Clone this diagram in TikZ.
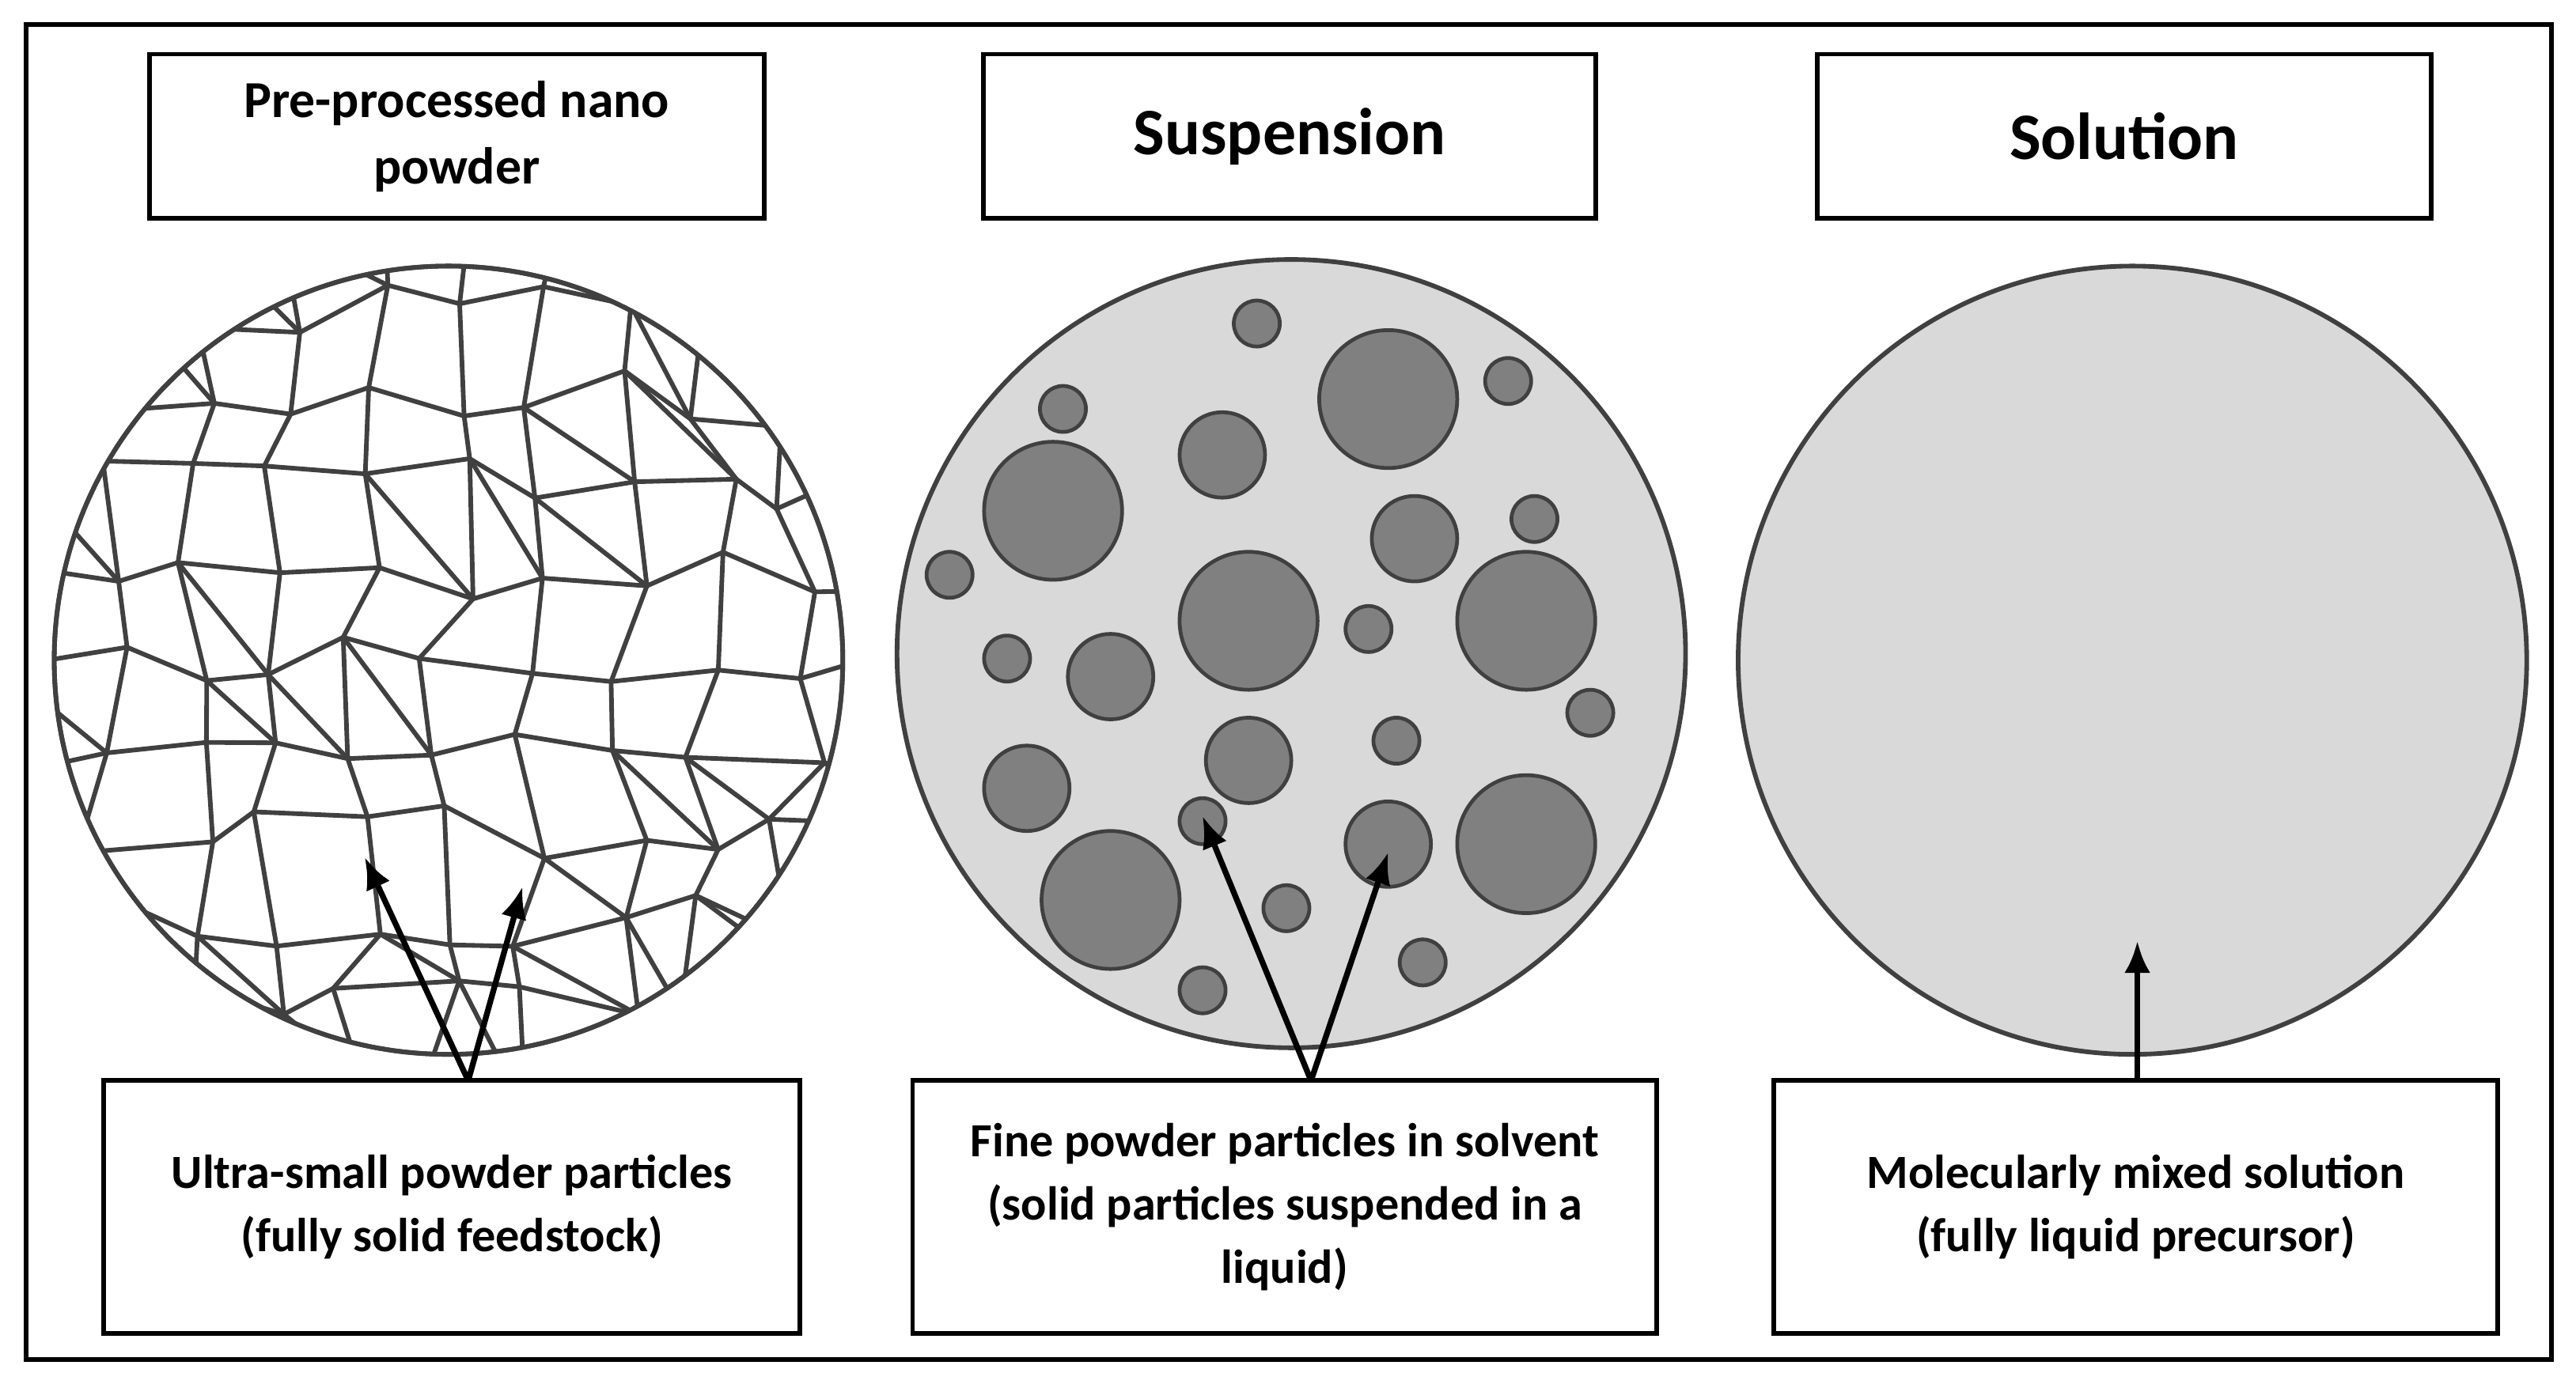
\documentclass[tikz,border=0pt]{standalone}
\usepackage{fontspec}
\setmainfont{Carlito}
\usetikzlibrary{arrows.meta}
\begin{document}
\begin{tikzpicture}[x=0.02cm,y=-0.02cm,
  box/.style={draw=black,line width=1.6pt,fill=white,font=\bfseries},
  disc/.style={draw=black!75,line width=1.6pt},
  part/.style={draw=black!75,line width=1.3pt,fill=black!50},
  mesh/.style={black!75,line width=1.6pt},
  arr/.style={line width=2pt,-{Latex[length=11pt,width=9pt]}}]
\useasboundingbox (0,0) rectangle (1568,845);
\draw[line width=1.6pt] (16,15) rectangle (1553,828);
% top boxes
\node[box,minimum width=374*0.02cm,minimum height=100*0.02cm,align=center,font=\bfseries\fontsize{18}{23}\selectfont] (t1) at (278,83) {Pre-processed nano\\powder};
\node[box,minimum width=373*0.02cm,minimum height=100*0.02cm,font=\bfseries\fontsize{23}{27}\selectfont] (t2) at (785,83) {Suspension};
\node[box,minimum width=374*0.02cm,minimum height=100*0.02cm,font=\bfseries\fontsize{23}{27}\selectfont] (t3) at (1293,83) {Solution};
% circles
\node[disc,circle,fill=white,minimum size=480*0.02cm] (c1) at (273,402) {};
\node[disc,circle,fill=black!15,minimum size=480*0.02cm] (c2) at (786,398) {};
\node[disc,circle,fill=black!15,minimum size=480*0.02cm] (c3) at (1298,402) {};
% mesh in left circle
\begin{scope}
\clip (273,402) circle (239);
\pgfmathsetseed{11}
\foreach \i in {0,...,10}{\foreach \j in {0,...,10}{
  \pgfmathsetmacro\xx{8+\i*53+rand*18}
  \pgfmathsetmacro\yy{137+\j*53+rand*18}
  \coordinate (p-\i-\j) at (\xx,\yy);}}
\foreach \i [evaluate=\i as \ni using int(\i+1)] in {0,...,9}{\foreach \j [evaluate=\j as \nj using int(\j+1)] in {0,...,9}{
  \draw[mesh] (p-\i-\j) -- (p-\ni-\j);
  \draw[mesh] (p-\i-\j) -- (p-\i-\nj);
  \pgfmathparse{rnd<0.3?1:0}
  \ifnum\pgfmathresult=1 \draw[mesh] (p-\i-\j) -- (p-\ni-\nj);\fi}}
\foreach \j [evaluate=\j as \nj using int(\j+1)] in {0,...,9}{
  \draw[mesh] (p-10-\j) -- (p-10-\nj);
  \draw[mesh] (p-\j-10) -- (p-\nj-10);}
\end{scope}
\draw[disc] (273,402) circle (240);
% particles
\foreach \x/\y/\r [count=\k] in {765/197/14,845/243/42,918/232/14,647/249/14,744/277/26,641/311/42,861/328/26,934/316/14,578/350/14,760/378/42,929/378/42,833/383/14,613/401/14,676/412/26,968/434/14,850/451/14,760/463/26,625/480/26,732/500/14,845/514/26,929/514/42,676/548/42,783/553/14,866/586/14,732/603/14}
  \node[part,circle,inner sep=0pt,minimum size=2*\r*0.02cm] (q\k) at (\x,\y) {};
% bottom boxes
\node[box,minimum width=424*0.02cm,minimum height=154*0.02cm,align=center,font=\bfseries\fontsize{16.5}{22}\selectfont] (b1) at (275,735) {Ultra-small powder particles\\(fully solid feedstock)};
\node[box,minimum width=453*0.02cm,minimum height=154*0.02cm,align=center,font=\bfseries\fontsize{16.5}{22}\selectfont] (b2) at (782,735) {Fine powder particles in solvent\\(solid particles suspended in a\\liquid)};
\node[box,minimum width=441*0.02cm,minimum height=154*0.02cm,align=center,font=\bfseries\fontsize{16.5}{22}\selectfont] (b3) at (1300,735) {Molecularly mixed solution\\(fully liquid precursor)};
% arrows
\coordinate (a1) at (222,522); \coordinate (a2) at (318,540);
\coordinate (a3) at (732,497); \coordinate (a4) at (845,519);
\coordinate (a5) at (1301,573);
\coordinate (s1) at (285,658); \coordinate (s2) at (798,658); \coordinate (s3) at (1301,658);
\draw[arr] (s1) -- (a1); \draw[arr] (s1) -- (a2);
\draw[arr] (s2) -- (a3); \draw[arr] (s2) -- (a4);
\draw[arr] (s3) -- (a5);
\end{tikzpicture}
\end{document}
